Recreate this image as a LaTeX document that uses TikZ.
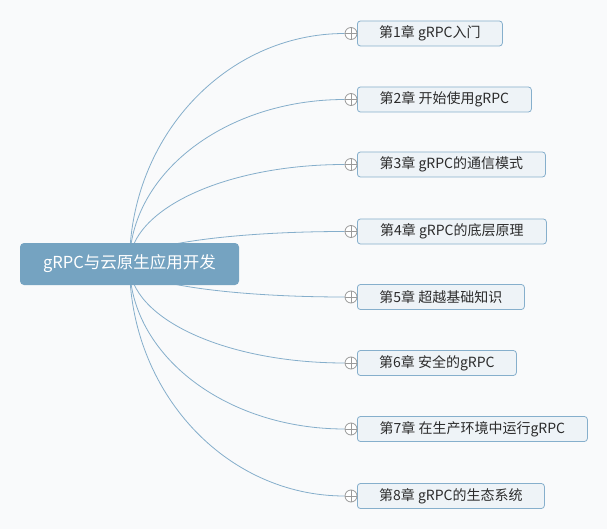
\documentclass[tikz,border=0pt]{standalone}
\usepackage{fontspec}
\newfontfamily\cjk{Noto Sans CJK SC}
\usetikzlibrary{calc,backgrounds}
\definecolor{bg}{HTML}{F9FAFB}
\definecolor{rootfill}{HTML}{75A3C1}
\definecolor{linec}{HTML}{85AECB}
\definecolor{boxfill}{HTML}{EEF3F7}
\definecolor{boxdraw}{HTML}{86AFCC}
\definecolor{plusc}{HTML}{9A9A9A}
\definecolor{txt}{HTML}{2B2B2B}
\begin{document}
\begin{tikzpicture}[x=1pt,y=-1pt,
  rootbox/.style={fill=rootfill, rounded corners=4pt, minimum width=219pt, minimum height=42pt, inner sep=0pt, text=white, font=\cjk\fontsize{16.5}{16.5}\selectfont},
  chapbox/.style={fill=boxfill, draw=boxdraw, line width=0.8pt, rounded corners=3pt, minimum height=25pt, inner sep=0pt, anchor=west, text=txt, font=\cjk\fontsize{14}{14}\selectfont},
  plusmark/.style={circle, draw=plusc, fill=white, line width=0.8pt, minimum size=12pt, inner sep=0pt,
    path picture={\draw[plusc, line width=0.8pt] (path picture bounding box.west) -- (path picture bounding box.east) (path picture bounding box.north) -- (path picture bounding box.south);}},
  branch/.style={draw=linec, line width=0.8pt}]
\begin{scope}[on background layer]
  \fill[bg] (0,0) rectangle (607,529);
\end{scope}
\useasboundingbox (0,0) rectangle (607,529);
\node[rootbox] (root) at (129.5,264) {gRPC与云原生应用开发};
\foreach \i/\yy/\ww/\tt in {
  1/33.5/145/{第1章 gRPC入门},
  2/99.5/174/{第2章 开始使用gRPC},
  3/164.5/188/{第3章 gRPC的通信模式},
  4/231.5/189/{第4章 gRPC的底层原理},
  5/297/167/{第5章 超越基础知识},
  6/363/159/{第6章 安全的gRPC},
  7/429/230/{第7章 在生产环境中运行gRPC},
  8/496/187/{第8章 gRPC的生态系统}} {
  \node[chapbox, minimum width=\ww pt] (b\i) at (357,\yy) {\tt};
  \node[plusmark] (p\i) at (351,\yy) {};
  \begin{scope}[on background layer]
    \draw[branch] (root.center) .. controls ($(root.center)!0.5523!(root.center |- p\i)$) and ($(p\i.west)!0.5523!(root.center |- p\i)$) .. (p\i.west);
  \end{scope}
}
\end{tikzpicture}
\end{document}
